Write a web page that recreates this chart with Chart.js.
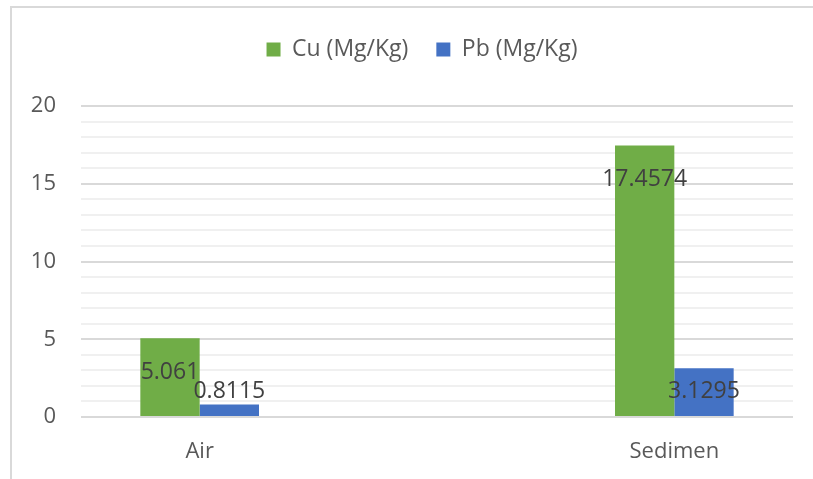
<!DOCTYPE html>
<html>
<head>
<meta charset="utf-8">
<script src="https://cdn.jsdelivr.net/npm/chart.js@4/dist/chart.umd.min.js"></script>
<style>
  html, body { margin: 0; padding: 0; background: #ffffff; }
  #wrap { position: relative; width: 813px; height: 479px; overflow: hidden; }
  #frame { position: absolute; left: 10px; top: 6px; width: 900px; height: 600px;
           border-left: 2px solid #d9d9d9; border-top: 2px solid #d9d9d9; box-sizing: border-box; }
  canvas { position: absolute; left: 0; top: 0; }
</style>
</head>
<body>
<div id="wrap">
  <div id="frame"></div>
  <canvas id="c" width="813" height="479"></canvas>
</div>
<script>
const categories = ['Air', '', 'Sedimen'];
const seriesNames = ['Cu (Mg/Kg)', 'Pb (Mg/Kg)'];
const cuValues = [5.061, null, 17.4574];
const pbValues = [0.8115, null, 3.1295];
const yTickLabels = [0, 5, 10, 15, 20];

const FONT = "'Open Sans', 'Noto Sans', sans-serif";

const dataLabelPlugin = {
  id: 'dataLabels',
  afterDatasetsDraw(chart) {
    const ctx = chart.ctx;
    ctx.save();
    ctx.font = '23px ' + FONT;
    ctx.fillStyle = '#404040';
    ctx.textAlign = 'center';
    ctx.textBaseline = 'middle';
    chart.data.datasets.forEach((ds, di) => {
      const meta = chart.getDatasetMeta(di);
      meta.data.forEach((el, i) => {
        const v = ds.data[i];
        if (v === null || v === undefined) return;
        const y = Math.min(el.y + 34, el.base - 25);
        ctx.fillText(String(v), el.x, y);
      });
    });
    ctx.restore();
  }
};

// Adds space below the legend and shifts it to be centred over the plot region
const legendLayoutPlugin = {
  id: 'legendLayout',
  beforeLayout(chart) {
    const lg = chart.legend;
    if (lg && !lg._patched) {
      const orig = lg.fit;
      lg.fit = function () { orig.call(this); this.height += 35; };
      lg._patched = true;
    }
  },
  afterLayout(chart) {
    if (chart.legend) chart.legend.left += 51;
  }
};

new Chart(document.getElementById('c'), {
  type: 'bar',
  data: {
    labels: categories,
    datasets: [
      { label: seriesNames[0], data: cuValues, backgroundColor: '#70ad47', categoryPercentage: 0.5, barPercentage: 1.0 },
      { label: seriesNames[1], data: pbValues, backgroundColor: '#4472c4', categoryPercentage: 0.5, barPercentage: 1.0 }
    ]
  },
  options: {
    responsive: false,
    animation: false,
    layout: { padding: { left: 0, right: 20, top: 10, bottom: 0 } },
    plugins: {
      legend: {
        position: 'top',
        labels: {
          boxWidth: 14, boxHeight: 14, padding: 28,
          color: '#595959',
          font: { family: FONT, size: 23 }
        }
      },
      tooltip: { enabled: false }
    },
    scales: {
      x: {
        grid: { display: false, drawTicks: false },
        border: { display: false },
        ticks: { color: '#595959', font: { family: FONT, size: 22 }, padding: 22 },
        afterFit(s) { s.height = 62; }
      },
      y: {
        min: 0, max: 20,
        ticks: {
          stepSize: 1,
          color: '#595959',
          font: { family: FONT, size: 22 },
          padding: 25,
          autoSkip: false,
          callback: (v) => yTickLabels.includes(v) ? String(v) : ''
        },
        grid: {
          drawTicks: false,
          color: (c) => (c.tick && c.tick.value % 5 === 0) ? '#d9d9d9' : '#f0f0f0',
          lineWidth: 2
        },
        border: { display: false },
        afterFit(s) { s.width = 81; }
      }
    }
  },
  plugins: [dataLabelPlugin, legendLayoutPlugin]
});
</script>
</body>
</html>
